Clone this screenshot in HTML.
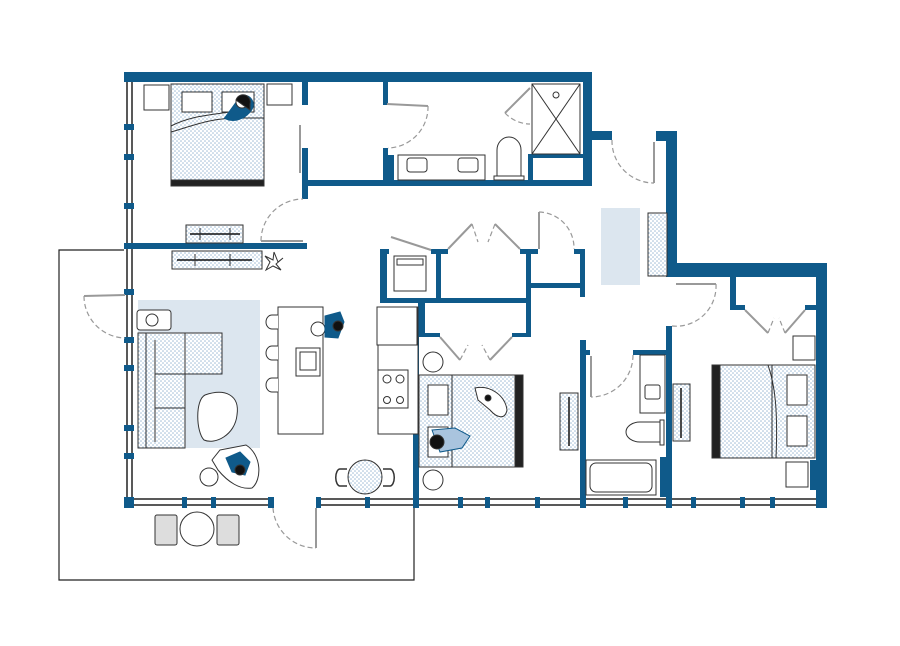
<!DOCTYPE html>
<html><head><meta charset="utf-8"><style>
html,body{margin:0;padding:0;background:#fff;}
svg{display:block;}
</style></head><body>
<svg width="900" height="646" viewBox="0 0 900 646" xmlns="http://www.w3.org/2000/svg">
<defs>
<pattern id="dots" width="4" height="4" patternUnits="userSpaceOnUse">
<rect width="4" height="4" fill="#fff"/>
<circle cx="1" cy="1" r="0.8" fill="#9fbcd6"/>
<circle cx="3" cy="3" r="0.8" fill="#9fbcd6"/>
</pattern>
</defs>
<g fill="none" stroke="#222" stroke-width="1.2">
<!-- terrace outline -->
<polyline points="124,250 59,250 59,580 414,580 414,508"/>
</g>
<!-- rugs -->
<rect x="138" y="300" width="122" height="148" fill="#dce6ef"/>
<rect x="601" y="208" width="39" height="77" fill="#dce6ef"/>

<!-- windows -->
<g stroke="#222" stroke-width="1.5">
<line x1="127" y1="80" x2="127" y2="505"/>
<line x1="132" y1="80" x2="132" y2="505"/>
<line x1="130" y1="499" x2="273" y2="499"/>
<line x1="130" y1="505" x2="273" y2="505"/>
<line x1="316" y1="499" x2="820" y2="499"/>
<line x1="316" y1="505" x2="820" y2="505"/>
</g>
<g fill="#0f5a8a">
<!-- window ticks left -->
<rect x="124" y="124" width="10" height="6"/><rect x="124" y="154" width="10" height="6"/>
<rect x="124" y="203" width="10" height="6"/><rect x="124" y="289" width="10" height="6"/>
<rect x="124" y="337" width="10" height="6"/><rect x="124" y="365" width="10" height="6"/>
<rect x="124" y="425" width="10" height="6"/><rect x="124" y="453" width="10" height="6"/>
<rect x="124" y="497" width="10" height="11"/>
<!-- window ticks bottom -->
<rect x="182" y="497" width="5" height="11"/><rect x="211" y="497" width="5" height="11"/>
<rect x="268" y="497" width="6" height="11"/><rect x="316" y="497" width="5" height="11"/>
<rect x="365" y="497" width="5" height="11"/><rect x="413" y="497" width="6" height="11"/>
<rect x="458" y="497" width="5" height="11"/><rect x="485" y="497" width="5" height="11"/>
<rect x="535" y="497" width="5" height="11"/><rect x="580" y="497" width="6" height="11"/>
<rect x="623" y="497" width="5" height="11"/><rect x="666" y="497" width="6" height="11"/>
<rect x="691" y="497" width="5" height="11"/><rect x="740" y="497" width="5" height="11"/>
<rect x="770" y="497" width="5" height="11"/>
<!-- outer walls -->
<rect x="124" y="72" width="468" height="10"/>
<rect x="583" y="72" width="9" height="114"/>
<rect x="583" y="131" width="29" height="9"/>
<rect x="656" y="131" width="21" height="10"/>
<rect x="666" y="131" width="11" height="146"/>
<rect x="666" y="263" width="161" height="14"/>
<rect x="816" y="263" width="11" height="245"/>
<rect x="810" y="460" width="10" height="30"/>
<!-- bedroom 1 walls -->
<rect x="124" y="243" width="183" height="6"/>
<rect x="302" y="80" width="6" height="25"/>
<rect x="302" y="148" width="6" height="51"/>
<rect x="305" y="180" width="285" height="6"/>
<rect x="383" y="80" width="5" height="25"/>
<rect x="383" y="148" width="5" height="38"/>
<rect x="388" y="155" width="6" height="25"/>
<rect x="528" y="154" width="5" height="30"/>
<rect x="533" y="154" width="50" height="4"/>
<!-- middle -->
<rect x="380" y="249" width="9" height="5"/>
<rect x="380" y="249" width="7" height="54"/>
<rect x="431" y="249" width="17" height="5"/>
<rect x="436" y="249" width="5" height="54"/>
<rect x="380" y="298" width="151" height="5"/>
<rect x="520" y="249" width="18" height="5"/>
<rect x="526" y="249" width="5" height="88"/>
<rect x="531" y="283" width="54" height="5"/>
<rect x="574" y="249" width="11" height="5"/>
<rect x="580" y="249" width="5" height="48"/>
<rect x="418" y="303" width="7" height="34"/>
<rect x="425" y="333" width="15" height="4"/>
<rect x="512" y="333" width="19" height="4"/>
<rect x="413" y="335" width="6" height="165"/>
<!-- bath 2 -->
<rect x="580" y="340" width="6" height="160"/>
<rect x="580" y="350" width="10" height="5"/>
<rect x="633" y="350" width="39" height="5"/>
<rect x="666" y="326" width="6" height="174"/>
<rect x="660" y="457" width="6" height="40"/>
<!-- bedroom 3 closet -->
<rect x="730" y="277" width="6" height="33"/>
<rect x="730" y="305" width="15" height="5"/>
<rect x="805" y="305" width="12" height="5"/>
</g>

<!-- doors -->
<g fill="none" stroke="#999" stroke-width="2">
<line x1="300" y1="125" x2="300" y2="173"/>
<line x1="261" y1="241" x2="303" y2="241"/>
<line x1="387" y1="104" x2="428" y2="106"/>
<line x1="530" y1="88" x2="505" y2="113"/>
<line x1="654" y1="142" x2="654" y2="183"/>
<line x1="391" y1="237" x2="431" y2="250"/>
<polyline points="448,249 472,224"/><polyline points="495,224 520,249"/>
<line x1="539" y1="212" x2="539" y2="249"/>
<line x1="676" y1="284" x2="716" y2="284"/>
<polyline points="440,337 460,360"/><polyline points="490,360 512,337"/>
<line x1="591" y1="356" x2="591" y2="397"/>
<polyline points="745,310 768,333"/><polyline points="785,333 805,310"/>
<line x1="84" y1="296" x2="125" y2="295"/>
<line x1="316" y1="508" x2="316" y2="548"/>
</g>
<g fill="none" stroke="#999" stroke-width="1.2" stroke-dasharray="5,3">
<path d="M261,241 A42,42 0 0 1 303,199"/>
<path d="M428,106 A41,41 0 0 1 388,148"/>
<path d="M505,113 A35,35 0 0 0 530,124"/>
<path d="M612,140 A42,42 0 0 0 654,183"/>
<path d="M539,212 A36,36 0 0 1 574,249"/>
<path d="M716,284 A40,40 0 0 1 672,326"/>
<path d="M633,355 A42,42 0 0 1 591,397"/>
<path d="M84,296 A42,42 0 0 0 125,338"/>
<path d="M273,508 A43,43 0 0 0 316,548"/>
<path d="M472,224 L478,242 M495,224 L488,242"/>
<path d="M460,360 L468,345 M490,360 L482,345"/>
<path d="M768,333 L774,318 M785,333 L779,318"/>
</g>

<g stroke="#333" stroke-width="1" fill="#fff">
<!-- bedroom 1 -->
<rect x="144" y="85" width="25" height="25"/>
<rect x="267" y="84" width="25" height="21"/>
<rect x="171" y="84" width="93" height="102" fill="url(#dots)"/>
<rect x="171" y="180" width="93" height="6" fill="#222"/>
<rect x="182" y="92" width="30" height="20"/>
<rect x="222" y="92" width="32" height="20"/>
<path d="M171,132 C195,125 210,118 240,118 L264,118" fill="none"/>
<path d="M171,126 C190,116 210,115 230,112" fill="none"/>
<path d="M240,96 C250,92 258,104 250,112 C245,118 234,124 224,118" fill="#0f5a8a" stroke="#0f5a8a"/>
<circle cx="242" cy="102" r="6" fill="#fff"/><path d="M236,100 A7,7 0 0 1 250,104 L250,110 Z" fill="#111"/>
<rect x="186" y="225" width="57" height="18" fill="url(#dots)"/>
<rect x="172" y="251" width="90" height="18" fill="url(#dots)"/>
<line x1="190" y1="234" x2="240" y2="234" stroke="#111" stroke-width="1.5"/>
<line x1="177" y1="260" x2="252" y2="260" stroke="#111" stroke-width="1.5"/>
<line x1="200" y1="228" x2="200" y2="240"/><line x1="230" y1="228" x2="230" y2="240"/>
<line x1="195" y1="254" x2="195" y2="266"/><line x1="230" y1="254" x2="230" y2="266"/>
<path d="M274,252 L278,262 L283,258 L276,264 L281,270 L273,266 L266,270 L270,262 L265,256 L273,260 Z" fill="#fff"/>
<!-- bath 1 -->
<rect x="398" y="155" width="87" height="25"/>
<rect x="407" y="158" width="20" height="14" rx="3"/>
<rect x="458" y="158" width="20" height="14" rx="3"/>
<path d="M497,177 L497,150 A12,13 0 0 1 521,150 L521,177 Z"/>
<rect x="494" y="176" width="30" height="4"/>
<rect x="532" y="84" width="48" height="70"/>
<line x1="532" y1="84" x2="580" y2="154"/><line x1="580" y1="84" x2="532" y2="154"/>
<circle cx="556" cy="95" r="3"/>
<!-- washer -->
<rect x="394" y="256" width="32" height="35"/>
<rect x="397" y="259" width="26" height="6"/>
<!-- hallway shelf -->
<rect x="648" y="213" width="19" height="63" fill="url(#dots)"/>
<!-- living -->
<rect x="137" y="310" width="34" height="20" rx="3"/>
<circle cx="152" cy="320" r="6"/>
<rect x="138" y="333" width="47" height="115" fill="url(#dots)"/>
<line x1="146" y1="333" x2="146" y2="448"/>
<line x1="155" y1="340" x2="155" y2="442"/>
<line x1="155" y1="374" x2="185" y2="374"/><line x1="155" y1="408" x2="185" y2="408"/>
<rect x="185" y="333" width="37" height="41" fill="url(#dots)"/>
<path d="M205,395 C225,388 240,395 237,415 C235,435 215,445 204,440 C196,432 195,400 205,395 Z"/>
<path d="M220,450 L246,445 C262,455 262,480 252,488 C240,490 228,482 218,470 L212,460 Z"/>
<circle cx="209" cy="477" r="9"/>
<path d="M226,458 L240,452 L250,462 L245,475 L232,472 Z" fill="#0f5a8a" stroke="#0f5a8a"/>
<circle cx="240" cy="470" r="5" fill="#111"/>
<!-- island -->
<rect x="278" y="307" width="45" height="127"/>
<rect x="296" y="348" width="24" height="28"/>
<rect x="300" y="352" width="16" height="18"/>
<path d="M278,315 L272,315 A6,7 0 0 0 272,329 L278,329"/>
<path d="M278,346 L272,346 A6,7 0 0 0 272,360 L278,360"/>
<path d="M278,378 L272,378 A6,7 0 0 0 272,392 L278,392"/>
<circle cx="318" cy="329" r="7"/>
<path d="M325,316 L340,312 L344,322 L338,338 L325,337 Z" fill="#0f5a8a" stroke="#0f5a8a"/>
<circle cx="338" cy="326" r="5" fill="#111"/>
<!-- kitchen counter -->
<rect x="378" y="307" width="40" height="127"/>
<rect x="377" y="307" width="40" height="38"/>
<rect x="378" y="370" width="30" height="38"/>
<circle cx="387" cy="379" r="4"/><circle cx="400" cy="379" r="4"/>
<circle cx="387" cy="400" r="3.5"/><circle cx="400" cy="400" r="3.5"/>
<!-- dining -->
<path d="M347,469 L340,469 A4,8 0 0 0 340,486 L347,486" stroke-width="1.5"/>
<path d="M383,469 L390,469 A4,8 0 0 1 390,486 L383,486" stroke-width="1.5"/>
<circle cx="365" cy="477" r="17" fill="url(#dots)"/>
<!-- terrace set -->
<rect x="155" y="515" width="22" height="30" rx="2" fill="#ddd"/>
<rect x="217" y="515" width="22" height="30" rx="2" fill="#ddd"/>
<circle cx="197" cy="529" r="17"/>
<!-- bedroom 2 -->
<circle cx="433" cy="362" r="10"/>
<circle cx="433" cy="480" r="10"/>
<rect x="419" y="375" width="104" height="92" fill="url(#dots)"/>
<rect x="515" y="375" width="8" height="92" fill="#222"/>
<line x1="452" y1="375" x2="452" y2="467"/>
<rect x="428" y="385" width="20" height="30"/>
<rect x="428" y="427" width="20" height="30"/>
<path d="M432,430 L455,428 L470,436 L462,448 L440,452 Z" fill="#a9c4de" stroke="#0f5a8a"/>
<circle cx="437" cy="442" r="7" fill="#111"/>
<path d="M475,388 C490,385 505,395 507,410 C505,420 497,418 490,410 L478,400 Z" fill="#fff"/>
<circle cx="488" cy="398" r="3" fill="#111"/>
<!-- bath 2 -->
<rect x="560" y="393" width="18" height="57" fill="url(#dots)"/>
<line x1="569" y1="397" x2="569" y2="446" stroke="#111" stroke-width="1.5"/>
<rect x="640" y="355" width="25" height="58"/>
<rect x="645" y="385" width="15" height="14" rx="2"/>
<path d="M660,422 L640,422 A14,10 0 0 0 640,442 L660,442 Z"/>
<rect x="660" y="420" width="4" height="25"/>
<rect x="586" y="460" width="70" height="35"/>
<rect x="590" y="463" width="62" height="29" rx="6"/>
<rect x="673" y="384" width="17" height="57" fill="url(#dots)"/>
<line x1="681" y1="388" x2="681" y2="438" stroke="#111" stroke-width="1.5"/>
<!-- bedroom 3 -->
<rect x="793" y="336" width="22" height="24"/>
<rect x="786" y="462" width="22" height="25"/>
<rect x="712" y="365" width="103" height="93" fill="url(#dots)"/>
<rect x="712" y="365" width="8" height="93" fill="#222"/>
<line x1="772" y1="365" x2="772" y2="458"/>
<path d="M768,365 C775,385 778,410 776,458" fill="none"/>
<rect x="787" y="375" width="20" height="30"/>
<rect x="787" y="416" width="20" height="30"/>
</g>
</svg>
</body></html>
